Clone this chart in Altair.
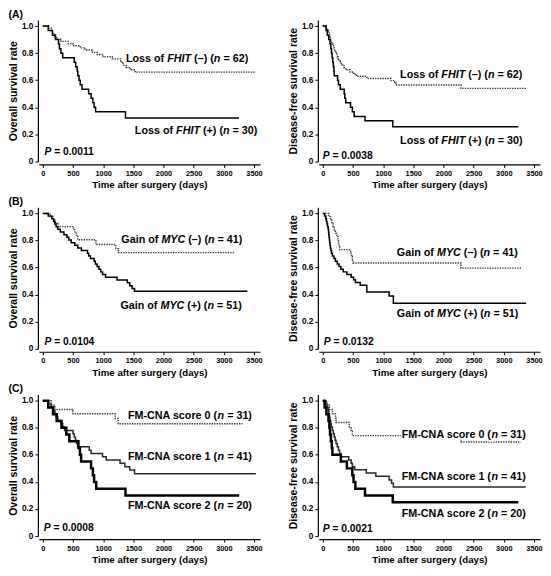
import altair as alt
import pandas as pd

FONT = "Liberation Sans"

# ---------------- data: Kaplan-Meier step points (days, survival) ----------------
# (A) overall survival, loss of FHIT
A_OS_NEG_T = [0, 100, 140, 160, 180, 200, 230, 300, 420, 500, 620, 700, 820, 900, 1000, 1150, 1290, 1310, 1330, 1380, 1450, 1530, 3520]
A_OS_NEG_S = [1.0, .984, .968, .952, .935, .919, .903, .887, .871, .855, .839, .823, .806, .79, .774, .758, .742, .726, .71, .694, .677, .66, .66]
A_OS_POS_T = [0, 90, 160, 210, 260, 275, 300, 330, 520, 545, 570, 580, 600, 620, 650, 760, 800, 830, 850, 875, 1370, 3250]
A_OS_POS_S = [1.0, .967, .933, .9, .867, .833, .8, .767, .733, .7, .667, .633, .6, .567, .533, .5, .467, .433, .4, .367, .321, .321]
# (A) disease-free survival
A_DFS_NEG_T = [0, 60, 80, 95, 105, 115, 125, 135, 150, 165, 180, 195, 210, 225, 240, 255, 270, 290, 320, 350, 380, 450, 510, 560, 730, 1130, 1190, 1210, 2290, 3370]
A_DFS_NEG_S = [1.0, .984, .968, .952, .935, .919, .903, .887, .871, .855, .839, .823, .806, .79, .774, .758, .742, .726, .71, .694, .677, .661, .645, .629, .613, .597, .581, .565, .54, .54]
A_DFS_POS_T = [0, 55, 75, 100, 120, 135, 145, 155, 165, 175, 185, 190, 245, 260, 290, 355, 365, 380, 460, 490, 520, 700, 1160, 3240]
A_DFS_POS_S = [1.0, .967, .933, .9, .867, .833, .8, .767, .733, .7, .667, .633, .6, .567, .533, .5, .467, .433, .4, .367, .333, .3, .257, .257]

# (B) overall survival, gain of MYC
B_OS_NEG_T = [0, 120, 170, 200, 250, 510, 530, 560, 580, 880, 1210, 1250, 3170]
B_OS_NEG_S = [1.0, .976, .951, .927, .902, .878, .854, .829, .805, .77, .74, .71, .71]
B_OS_POS_T = [0, 90, 150, 180, 200, 220, 250, 290, 350, 400, 430, 470, 530, 580, 640, 740, 760, 790, 850, 870, 900, 930, 960, 990, 1040, 1230, 1400, 1440, 1480, 1520, 3390]
B_OS_POS_S = [1.0, .98, .961, .941, .922, .902, .882, .863, .843, .823, .804, .784, .764, .745, .725, .706, .686, .666, .647, .627, .608, .588, .568, .549, .529, .508, .487, .466, .445, .424, .424]
# (B) disease-free survival
B_DFS_NEG_T = [0, 100, 130, 150, 170, 190, 210, 230, 250, 260, 270, 280, 460, 475, 490, 500, 2290, 3285]
B_DFS_NEG_S = [1.0, .976, .951, .927, .902, .878, .854, .829, .805, .78, .756, .732, .708, .683, .659, .634, .596, .596]
B_DFS_POS_T = [0, 30, 50, 60, 70, 80, 90, 95, 100, 105, 110, 115, 120, 125, 135, 145, 160, 185, 210, 240, 270, 300, 340, 400, 470, 510, 540, 620, 730, 1100, 1170, 3370]
B_DFS_POS_S = [1.0, .98, .961, .941, .922, .902, .882, .863, .843, .823, .804, .784, .764, .745, .725, .706, .686, .667, .647, .627, .608, .588, .568, .549, .529, .509, .49, .47, .42, .39, .336, .336]

# (C) overall survival, FM-CNA score
C_OS_0_T = [0, 140, 200, 500, 1200, 1250, 3310]
C_OS_0_S = [1.0, .968, .935, .903, .868, .83, .83]
C_OS_1_T = [0, 90, 140, 170, 200, 220, 250, 300, 330, 360, 500, 520, 540, 560, 580, 770, 800, 990, 1050, 1280, 1360, 1440, 1520, 3530]
C_OS_1_S = [1.0, .976, .951, .927, .902, .878, .854, .829, .805, .78, .756, .732, .707, .683, .659, .634, .61, .585, .561, .537, .512, .488, .46, .46]
C_OS_2_T = [0, 90, 170, 230, 310, 390, 440, 590, 615, 635, 800, 830, 850, 885, 1370, 3255]
C_OS_2_S = [1.0, .95, .9, .85, .8, .75, .7, .65, .6, .55, .5, .45, .4, .35, .3, .3]
# (C) disease-free survival
C_DFS_0_T = [0, 70, 110, 160, 210, 220, 440, 470, 490, 2290, 3285]
C_DFS_0_S = [1.0, .968, .935, .903, .871, .839, .806, .774, .742, .695, .695]
C_DFS_1_T = [0, 50, 70, 90, 100, 110, 120, 130, 140, 160, 175, 190, 205, 220, 240, 260, 280, 300, 430, 470, 490, 530, 720, 880, 1100, 1140, 1170, 3365]
C_DFS_1_S = [1.0, .976, .951, .927, .902, .878, .854, .829, .805, .78, .756, .732, .707, .683, .659, .634, .61, .585, .561, .537, .512, .49, .466, .441, .415, .39, .362, .362]
C_DFS_2_T = [0, 30, 60, 95, 110, 120, 135, 150, 160, 300, 400, 490, 510, 540, 700, 1160, 3240]
C_DFS_2_S = [1.0, .95, .9, .85, .8, .75, .7, .65, .6, .55, .5, .45, .4, .35, .3, .25, .25]

X_TICKS = [0, 500, 1000, 1500, 2000, 2500, 3000, 3500]
Y_TICKS = [0, 0.2, 0.4, 0.6, 0.8, 1.0]
X_TITLE = "Time after surgery (days)"
Y_TITLE_OS = "Overall survival rate"
Y_TITLE_DFS = "Disease-free survival rate"
P_VALUES = ["0.0011", "0.0038", "0.0104", "0.0132", "0.0008", "0.0021"]

# ---------------- styles ----------------
W, H = 222, 142
X_DOMAIN = [-65, 3600]
Y_DOMAIN = [0, 1.045]
ANN_SIZE = 10.8
P_SIZE = 10.3

DOT = dict(color="#3a3a3a", strokeWidth=1.4, strokeDash=[1.4, 1.1])
SOLID = dict(color="black", strokeWidth=1.5)
MED = dict(color="#2a2a2a", strokeWidth=1.5)
THICK = dict(color="black", strokeWidth=2.5)

# Arial/Liberation Sans Bold advance widths (per 1000 em)
CW = {' ': 278, '(': 333, ')': 333, '\u2013': 556, '+': 584, '=': 584, '-': 333, '.': 278,
      'A': 722, 'C': 722, 'F': 611, 'G': 778, 'H': 722, 'I': 278, 'L': 611, 'M': 833,
      'N': 722, 'P': 667, 'T': 611, 'Y': 667, 'a': 556, 'c': 556, 'e': 556, 'f': 333,
      'i': 278, 'n': 611, 'o': 611, 'r': 389, 's': 556}
for d in "0123456789":
    CW[d] = 556


def tw(s, size):
    return sum(CW.get(c, 556) for c in s) * size / 1000.0


def encodings(ytitle):
    xs = alt.X("t:Q", scale=alt.Scale(domain=X_DOMAIN, nice=False, zero=False),
               axis=alt.Axis(values=X_TICKS, title=X_TITLE, offset=3, labelFontSize=7.4,
                             titleFontSize=9.7, labelPadding=2, titlePadding=3, format="d"))
    ys = alt.Y("s:Q", scale=alt.Scale(domain=Y_DOMAIN, nice=False),
               axis=alt.Axis(values=Y_TICKS, title=ytitle, offset=1, labelFontSize=8.3,
                             titleFontSize=10.5, labelPadding=2, titlePadding=3,
                             labelExpr="datum.value == 0 ? '0' : format(datum.value, '.1f')"))
    return xs, ys


def rich(segments, x, y, size, xs, ys):
    df = pd.DataFrame({"t": [x], "s": [y]})
    halo, ink, pos = [], [], 0.0
    for seg, ital in segments:
        lead = len(seg) - len(seg.lstrip(" "))
        core = seg.strip(" ")
        if core:
            common = dict(text=core, align="left", baseline="middle", dx=pos + tw(" " * lead, size),
                          font=FONT, fontSize=size, fontWeight="bold",
                          fontStyle="italic" if ital else "normal")
            halo.append(alt.Chart(df).mark_text(color="white", stroke="white", strokeWidth=3.5,
                                                **common).encode(x=xs, y=ys))
            ink.append(alt.Chart(df).mark_text(color="black", **common).encode(x=xs, y=ys))
        pos += tw(seg, size)
    return halo + ink


def label_segments(prefix, gene, sign, n):
    if gene:
        return [(prefix, False), (gene, True), (" (" + sign + ") (", False), ("n", True), (" = " + n + ")", False)]
    return [(prefix + " (", False), ("n", True), (" = " + n + ")", False)]


def panel(curves, ytitle, annots, pval, ppos):
    xs, ys = encodings(ytitle)
    frames = [pd.DataFrame({"t": T, "s": S, "g": name}) for name, T, S, _ in curves]
    df = pd.concat(frames, ignore_index=True)
    base = alt.Chart(df)
    layers = []
    for name, _, _, style in curves:
        layers.append(base.transform_filter(alt.datum.g == name)
                      .mark_line(interpolate="step-after", **style).encode(x=xs, y=ys))
    for segs, (ax, ay) in annots:
        layers += rich(segs, ax, ay, ANN_SIZE, xs, ys)
    layers += rich([("P", True), (" = " + pval, False)], ppos[0], ppos[1], P_SIZE, xs, ys)
    return alt.layer(*layers).properties(width=W, height=H)


FH = "\u2013"
A_left = panel([("neg", A_OS_NEG_T, A_OS_NEG_S, DOT), ("pos", A_OS_POS_T, A_OS_POS_S, SOLID)], Y_TITLE_OS,
               [(label_segments("Loss of ", "FHIT", FH, "62"), (1378, 0.756)),
                (label_segments("Loss of ", "FHIT", "+", "30"), (1525, 0.225))],
               P_VALUES[0], (27, 0.067))
A_right = panel([("neg", A_DFS_NEG_T, A_DFS_NEG_S, DOT), ("pos", A_DFS_POS_T, A_DFS_POS_S, SOLID)], Y_TITLE_DFS,
                [(label_segments("Loss of ", "FHIT", FH, "62"), (1281, 0.635)),
                 (label_segments("Loss of ", "FHIT", "+", "30"), (1281, 0.152))],
                P_VALUES[1], (0, 0.043))
B_left = panel([("neg", B_OS_NEG_T, B_OS_NEG_S, DOT), ("pos", B_OS_POS_T, B_OS_POS_S, SOLID)], Y_TITLE_OS,
               [(label_segments("Gain of ", "MYC", FH, "41"), (1301, 0.806)),
                (label_segments("Gain of ", "MYC", "+", "51"), (1286, 0.314))],
               P_VALUES[2], (27, 0.048))
B_right = panel([("neg", B_DFS_NEG_T, B_DFS_NEG_S, DOT), ("pos", B_DFS_POS_T, B_DFS_POS_S, SOLID)], Y_TITLE_DFS,
                [(label_segments("Gain of ", "MYC", FH, "41"), (1228, 0.705)),
                 (label_segments("Gain of ", "MYC", "+", "51"), (1228, 0.254))],
                P_VALUES[3], (16, 0.05))
C_left = panel([("s0", C_OS_0_T, C_OS_0_S, DOT), ("s1", C_OS_1_T, C_OS_1_S, MED), ("s2", C_OS_2_T, C_OS_2_S, THICK)], Y_TITLE_OS,
               [(label_segments("FM-CNA score 0", None, None, "31"), (1410, 0.89)),
                (label_segments("FM-CNA score 1", None, None, "41"), (1410, 0.583)),
                (label_segments("FM-CNA score 2", None, None, "20"), (1410, 0.223))],
               P_VALUES[4], (16, 0.063))
C_right = panel([("s0", C_DFS_0_T, C_DFS_0_S, DOT), ("s1", C_DFS_1_T, C_DFS_1_S, MED), ("s2", C_DFS_2_T, C_DFS_2_S, THICK)], Y_TITLE_DFS,
                [(label_segments("FM-CNA score 0", None, None, "31"), (1309, 0.75)),
                 (label_segments("FM-CNA score 1", None, None, "41"), (1309, 0.434)),
                 (label_segments("FM-CNA score 2", None, None, "20"), (1309, 0.165))],
                P_VALUES[5], (0, 0.055))


def row(left, right, tag):
    return alt.hconcat(left, right, spacing=25).properties(
        title=alt.TitleParams(tag, anchor="start", fontSize=10.5, font=FONT, fontWeight="bold",
                              color="black", offset=0))


chart = alt.vconcat(row(A_left, A_right, "(A)"), row(B_left, B_right, "(B)"), row(C_left, C_right, "(C)"),
                    spacing=6).properties(padding=0, background="white").configure_view(stroke=None).configure_axis(
    domainColor="black", tickColor="black", labelColor="black", titleColor="black",
    labelFont=FONT, titleFont=FONT, labelFontWeight="bold", titleFontWeight="bold",
    grid=False, tickSize=3, domainWidth=1.2, tickWidth=1)

chart.save("out.html", embed_options={"renderer": "svg", "actions": False})
